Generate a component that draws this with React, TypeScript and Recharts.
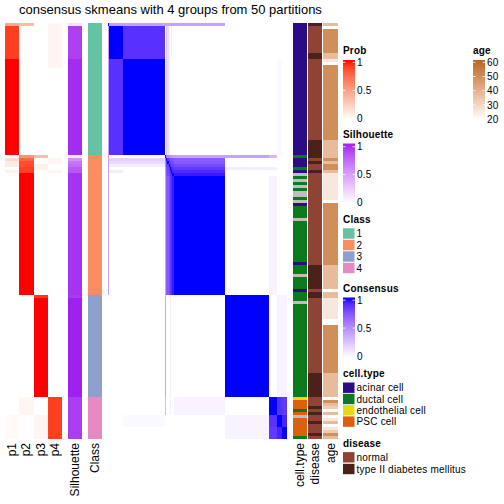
import React from 'react';
import { ComposedChart, XAxis, YAxis, ReferenceArea, Scatter } from 'recharts';

// ---------------- data ----------------
const title = 'consensus skmeans with 4 groups from 50 partitions';

const classLabels = ['1', '2', '3', '4'];
const classSizes = [44, 47, 34, 14];
const classColors = ['#66C2A5', '#FC8D62', '#8DA0CB', '#E78AC3'];

const probLabels = ['p1', 'p2', 'p3', 'p4'];
// [count, p1, p2, p3, p4, silhouette]
const memberRuns: number[][] = [
  [1, 0.45, 0.35, 0, 0.05, 0.15],
  [11, 0.9, 0, 0, 0.05, 0.9],
  [3, 1, 0, 0, 0.05, 0.97],
  [29, 1, 0, 0, 0, 0.97],
  [1, 0, 0.55, 0.35, 0, 0.12],
  [1, 0.2, 0.75, 0, 0.05, 0.55],
  [1, 0.1, 0.85, 0, 0.05, 0.68],
  [1, 0.1, 0.85, 0.07, 0, 0.72],
  [1, 0, 0.9, 0.07, 0, 0.8],
  [1, 0.08, 0.9, 0, 0.05, 0.82],
  [41, 0, 1, 0, 0, 0.95],
  [1, 0, 0, 0.92, 0, 0.93],
  [33, 0, 0, 1, 0, 1],
  [6, 0, 0.05, 0, 0.9, 0.92],
  [8, 0.03, 0, 0.05, 0.9, 0.92],
];

const cellTypeNames = ['acinar cell', 'ductal cell', 'endothelial cell', 'PSC cell'];
const cellTypeColors = ['#2C0B87', '#0B7A1E', '#E5DB12', '#DE5F0E'];
const naColor = '#BEBEBE';
// [type index (-1 = NA), count]
const cellTypeRuns: number[][] = [
  [0, 44], [1, 1], [0, 3], [1, 1], [0, 1], [-1, 1], [1, 1], [-1, 1], [1, 1], [-1, 1],
  [1, 1], [-1, 2], [1, 1], [-1, 1], [0, 1], [1, 4], [-1, 1], [1, 14], [0, 1], [1, 3],
  [-1, 1], [1, 4], [0, 1], [1, 3], [-1, 1], [1, 31],
  [2, 1], [3, 3], [1, 1], [3, 1], [-1, 1], [3, 6], [1, 1],
];

const diseaseNames = ['normal', 'type II diabetes mellitus'];
const diseaseColors = ['#8E4434', '#4A2219'];
// [disease index, count]
const diseaseRuns: number[][] = [
  [1, 1], [0, 9], [1, 2], [0, 27], [1, 6], [0, 1], [1, 1], [0, 2], [1, 1], [0, 31],
  [1, 8], [0, 1], [1, 2], [0, 25], [1, 8], [0, 3], [1, 1], [0, 1], [1, 1], [0, 2],
  [1, 1], [0, 3], [1, 1], [0, 1],
];

const ageTicks = [60, 50, 40, 30, 20];
const ageRange = [20, 60];
const ageTopColor = '#B5661E';
// [age, count]
const ageRuns: number[][] = [
  [37, 1], [20, 1], [49, 8], [37, 2], [26, 1], [20, 1], [49, 25], [37, 6],
  [49, 1], [37, 1], [49, 2], [37, 1], [26, 9], [20, 1], [49, 21], [37, 8], [20, 1],
  [37, 2], [26, 7], [20, 2], [49, 16], [37, 8],
  [20, 1], [49, 1], [37, 1], [33, 1], [20, 1], [37, 1], [20, 1], [26, 1], [37, 1],
  [20, 1], [26, 1], [33, 1], [49, 1], [37, 1],
];

// consensus sub-groups (contiguous sample blocks) and their pairwise consensus
const consensusGroupSizes = [1, 11, 32, 1, 1, 1, 1, 1, 1, 1, 40, 34, 6, 4, 4];
const consensusPairs: number[][] = [
  [0, 1, 0.4], [0, 2, 0.4], [0, 3, 0.4], [0, 4, 0.4], [0, 5, 0.4], [0, 6, 0.4],
  [0, 7, 0.4], [0, 8, 0.4], [0, 9, 0.4], [0, 10, 0.4],
  [1, 2, 0.88], [1, 4, 0.2], [1, 5, 0.15], [1, 6, 0.08], [1, 8, 0.08],
  [2, 4, 0.2], [2, 5, 0.15], [2, 6, 0.08], [2, 13, 0.03],
  [3, 4, 0.55], [3, 5, 0.5], [3, 6, 0.5], [3, 7, 0.45], [3, 8, 0.45], [3, 9, 0.42],
  [3, 10, 0.4], [3, 11, 0.4], [3, 12, 0.3],
  [4, 5, 0.85], [4, 6, 0.8], [4, 7, 0.75], [4, 8, 0.75], [4, 9, 0.72], [4, 10, 0.7],
  [5, 6, 0.85], [5, 7, 0.8], [5, 8, 0.8], [5, 9, 0.78], [5, 10, 0.72],
  [6, 7, 0.88], [6, 8, 0.85], [6, 9, 0.82], [6, 10, 0.78],
  [7, 8, 0.9], [7, 9, 0.88], [7, 10, 0.85], [7, 11, 0.08], [7, 12, 0.06],
  [8, 9, 0.92], [8, 10, 0.9],
  [9, 10, 0.95],
  [10, 12, 0.05],
  [11, 13, 0.05], [11, 14, 0.05],
  [12, 13, 0.88], [12, 14, 0.85],
  [13, 14, 0.92],
];

// ---------------- colour helpers (LAB interpolation) ----------------
function hexToRgb(h: string) {
  const n = parseInt(h.slice(1), 16);
  return [(n >> 16) & 255, (n >> 8) & 255, n & 255];
}
function toLab(rgb: number[]) {
  const lin = (c: number) => {
    c /= 255;
    return c <= 0.04045 ? c / 12.92 : Math.pow((c + 0.055) / 1.055, 2.4);
  };
  const R = lin(rgb[0]), G = lin(rgb[1]), B = lin(rgb[2]);
  const X = (0.4124564 * R + 0.3575761 * G + 0.1804375 * B) / 0.95047;
  const Y = 0.2126729 * R + 0.7151522 * G + 0.072175 * B;
  const Z = (0.0193339 * R + 0.119192 * G + 0.9503041 * B) / 1.08883;
  const f = (t: number) => (t > 216 / 24389 ? Math.cbrt(t) : ((24389 / 27) * t + 16) / 116);
  const fx = f(X), fy = f(Y), fz = f(Z);
  return [116 * fy - 16, 500 * (fx - fy), 200 * (fy - fz)];
}
function fromLab(lab: number[]) {
  const fy = (lab[0] + 16) / 116;
  const fx = fy + lab[1] / 500;
  const fz = fy - lab[2] / 200;
  const finv = (t: number) => (t * t * t > 216 / 24389 ? t * t * t : (116 * t - 16) / (24389 / 27));
  const X = finv(fx) * 0.95047, Y = finv(fy), Z = finv(fz) * 1.08883;
  const R = 3.2404542 * X - 1.5371385 * Y - 0.4985314 * Z;
  const G = -0.969266 * X + 1.8760108 * Y + 0.041556 * Z;
  const B = 0.0556434 * X - 0.2040259 * Y + 1.0572252 * Z;
  const g = (c: number) => {
    c = c <= 0.0031308 ? 12.92 * c : 1.055 * Math.pow(c, 1 / 2.4) - 0.055;
    return Math.round(Math.min(1, Math.max(0, c)) * 255);
  };
  return `rgb(${g(R)},${g(G)},${g(B)})`;
}
function ramp(c1: string, t: number) {
  const a = toLab([255, 255, 255]);
  const b = toLab(hexToRgb(c1));
  const tt = Math.min(1, Math.max(0, t));
  return fromLab(a.map((v, i) => v + (b[i] - v) * tt));
}
const probColor = (v: number) => ramp('#FF0000', v);
const silColor = (v: number) => ramp('#A020F0', v);
const consColor = (v: number) => ramp('#0000FF', v);
const ageColor = (a: number) => ramp(ageTopColor, (a - ageRange[0]) / (ageRange[1] - ageRange[0]));

// ---------------- derived cells ----------------
const N = classSizes.reduce((s, v) => s + v, 0);

type Cell = { col: number; y0: number; y1: number; fill: string };

function runsToCells(runs: number[][], countIdx: number, makeCells: (run: number[], y0: number, y1: number) => Cell[]) {
  let s = 0;
  const out: Cell[] = [];
  runs.forEach((r) => {
    const n = r[countIdx];
    out.push(...makeCells(r, s, s + n));
    s += n;
  });
  return out;
}

const probCells = runsToCells(memberRuns, 0, (r, y0, y1) =>
  [0, 1, 2, 3].filter((k) => r[k + 1] > 0).map((k) => ({ col: k, y0, y1, fill: probColor(r[k + 1]) }))
);
const silCells = runsToCells(memberRuns, 0, (r, y0, y1) => [{ col: 0, y0, y1, fill: silColor(r[5]) }]);
const classCells = runsToCells(classSizes.map((n, i) => [i, n]), 1, (r, y0, y1) => [
  { col: 0, y0, y1, fill: classColors[r[0]] },
]);
const cellTypeCells = runsToCells(cellTypeRuns, 1, (r, y0, y1) => [
  { col: 0, y0, y1, fill: r[0] < 0 ? naColor : cellTypeColors[r[0]] },
]);
const diseaseCells = runsToCells(diseaseRuns, 1, (r, y0, y1) => [{ col: 0, y0, y1, fill: diseaseColors[r[0]] }]);
const ageCells = runsToCells(ageRuns, 1, (r, y0, y1) => [{ col: 0, y0, y1, fill: ageColor(r[0]) }]);

const groupStarts: number[] = [];
consensusGroupSizes.reduce((s, v) => {
  groupStarts.push(s);
  return s + v;
}, 0);
type Block = { x0: number; x1: number; y0: number; y1: number; fill: string };
const consensusBlocks: Block[] = (() => {
  const G = consensusGroupSizes.length;
  const m: number[][] = Array.from({ length: G }, (_, i) => Array.from({ length: G }, (_, j) => (i === j ? 1 : 0)));
  consensusPairs.forEach(([i, j, v]) => {
    m[i][j] = v;
    m[j][i] = v;
  });
  const out: Block[] = [];
  for (let i = 0; i < G; i++)
    for (let j = 0; j < G; j++)
      if (m[i][j] > 0)
        out.push({
          y0: groupStarts[i],
          y1: groupStarts[i] + consensusGroupSizes[i],
          x0: groupStarts[j],
          x1: groupStarts[j] + consensusGroupSizes[j],
          fill: consColor(m[i][j]),
        });
  return out;
})();

// ---------------- components ----------------
const FONT = '"Liberation Sans", Arial, Helvetica, sans-serif';
const TOP = 23;
const PLOT_H = 416;
const LABEL_SPACE = 62;
const noShape = () => <g />;

function HeatStrip(props: { left: number; width: number; labels: string[]; cells: Cell[] }) {
  const { left, width, labels, cells } = props;
  const ticks = labels.map((_, i) => i + 0.5);
  const anchorData = cells.map((c) => ({ x: c.col + 0.5, y: (c.y0 + c.y1) / 2 }));
  const renderTick = (p: any) => {
    const x = p.x, y = p.y;
    return (
      <text
        x={x}
        y={y}
        transform={`rotate(-90 ${x} ${y})`}
        textAnchor="end"
        dominantBaseline="central"
        fontSize={12}
        fontFamily={FONT}
        fill="#000"
      >
        {labels[Math.floor(p.payload.value)]}
      </text>
    );
  };
  return (
    <div style={{ position: 'absolute', left, top: TOP }}>
      <ComposedChart width={width} height={PLOT_H + LABEL_SPACE} data={anchorData} margin={{ top: 0, right: 0, bottom: 0, left: 0 }}>
        <XAxis
          type="number"
          dataKey="x"
          domain={[0, labels.length]}
          ticks={ticks}
          interval={0}
          height={LABEL_SPACE}
          axisLine={false}
          tickLine={false}
          tickSize={0}
          tickMargin={4}
          tick={renderTick}
        />
        <YAxis type="number" dataKey="y" domain={[0, N]} reversed hide />
        {cells.map((c, i) => (
          <ReferenceArea
            key={i}
            x1={c.col}
            x2={c.col + 1}
            y1={c.y0}
            y2={c.y1}
            fill={c.fill}
            fillOpacity={1}
            stroke="none"
          />
        ))}
        <Scatter dataKey="y" isAnimationActive={false} shape={noShape} />
      </ComposedChart>
    </div>
  );
}

function ConsensusMatrix(props: { left: number; width: number }) {
  const anchorData = consensusBlocks.map((b) => ({ x: (b.x0 + b.x1) / 2, y: (b.y0 + b.y1) / 2 }));
  return (
    <div style={{ position: 'absolute', left: props.left, top: TOP }}>
      <ComposedChart width={props.width} height={PLOT_H} data={anchorData} margin={{ top: 0, right: 0, bottom: 0, left: 0 }}>
        <XAxis type="number" dataKey="x" domain={[0, N]} hide />
        <YAxis type="number" dataKey="y" domain={[0, N]} reversed hide />
        {consensusBlocks.map((b, i) => (
          <ReferenceArea
            key={i}
            x1={b.x0}
            x2={b.x1}
            y1={b.y0}
            y2={b.y1}
            fill={b.fill}
            fillOpacity={1}
            stroke="none"
          />
        ))}
        <Scatter dataKey="y" isAnimationActive={false} shape={noShape} />
      </ComposedChart>
    </div>
  );
}

function gradientStops(colorFn: (t: number) => string) {
  const stops = [];
  for (let k = 0; k <= 10; k++) {
    const t = 1 - k / 10;
    stops.push(<stop key={k} offset={`${k * 10}%`} stopColor={colorFn(t)} />);
  }
  return stops;
}

const LS = 0.2;

function ColorBar(props: {
  x: number; y: number; h: number; title: string; id: string;
  ticks: { label: string; y: number }[];
}) {
  const { x, y, h, title, id, ticks } = props;
  return (
    <g>
      <text x={x} y={y - 6} fontSize={10} fontWeight="bold" fontFamily={FONT} letterSpacing={LS}>{title}</text>
      <rect x={x} y={y} width={12} height={h} fill={`url(#${id})`} />
      {ticks.map((t, i) => (
        <g key={i}>
          <line x1={x} x2={x + 2.5} y1={t.y} y2={t.y} stroke="#fff" strokeWidth={0.8} />
          <line x1={x + 9.5} x2={x + 12} y1={t.y} y2={t.y} stroke="#fff" strokeWidth={0.8} />
          <text x={x + 14} y={t.y + 3.6} fontSize={10} fontFamily={FONT} letterSpacing={LS}>{t.label}</text>
        </g>
      ))}
    </g>
  );
}

function DiscreteLegend(props: { x: number; y: number; title: string; items: string[]; colors: string[]; step: number; firstY: number }) {
  const { x, y, title, items, colors, step, firstY } = props;
  return (
    <g>
      <text x={x} y={y} fontSize={10} fontWeight="bold" fontFamily={FONT} letterSpacing={LS}>{title}</text>
      {items.map((it, i) => {
        const cy = firstY + i * step;
        return (
          <g key={i}>
            <rect x={x} y={cy - 5.2} width={11.5} height={10.4} fill={colors[i]} />
            <text x={x + 13.5} y={cy + 3.6} fontSize={10} fontFamily={FONT} letterSpacing={LS}>{it}</text>
          </g>
        );
      })}
    </g>
  );
}

export default function App() {
  const unitTicks = (y0: number, y1: number) => [
    { label: '1', y: y0 },
    { label: '0.5', y: (y0 + y1) / 2 },
    { label: '0', y: y1 },
  ];
  const ageTickObjs = ageTicks.map((a, i) => ({ label: String(a), y: 62.3 + i * 14.2 }));
  return (
    <div style={{ position: 'absolute', left: 0, top: 0, width: 504, height: 504, background: '#fff', shapeRendering: 'crispEdges' as any }}>
      <HeatStrip left={5} width={57} labels={probLabels} cells={probCells} />
      <HeatStrip left={68} width={14} labels={['Silhouette']} cells={silCells} />
      <HeatStrip left={88} width={14} labels={['Class']} cells={classCells} />
      <ConsensusMatrix left={108} width={179} />
      <HeatStrip left={293} width={14} labels={['cell.type']} cells={cellTypeCells} />
      <HeatStrip left={308} width={14} labels={['disease']} cells={diseaseCells} />
      <HeatStrip left={323} width={15} labels={['age']} cells={ageCells} />
      <svg width={504} height={504} style={{ position: 'absolute', left: 0, top: 0, pointerEvents: 'none', shapeRendering: 'auto' }}>
        <defs>
          <linearGradient id="gProb" x1="0" y1="0" x2="0" y2="1">{gradientStops(probColor)}</linearGradient>
          <linearGradient id="gSil" x1="0" y1="0" x2="0" y2="1">{gradientStops(silColor)}</linearGradient>
          <linearGradient id="gCons" x1="0" y1="0" x2="0" y2="1">{gradientStops(consColor)}</linearGradient>
          <linearGradient id="gAge" x1="0" y1="0" x2="0" y2="1">
            {gradientStops((t) => ageColor(ageRange[0] + t * (ageRange[1] - ageRange[0])))}
          </linearGradient>
        </defs>
        <text x={170.5} y={14} textAnchor="middle" fontSize={13} fontFamily={FONT}>{title}</text>
        <ColorBar x={343} y={60} h={60} title="Prob" id="gProb" ticks={unitTicks(62.3, 118.5)} />
        <ColorBar x={343} y={143.5} h={60} title="Silhouette" id="gSil" ticks={unitTicks(146.7, 202.5)} />
        <DiscreteLegend x={343} y={222.6} title="Class" items={classLabels} colors={classColors} step={11.5} firstY={233.5} />
        <ColorBar x={343} y={297.5} h={60} title="Consensus" id="gCons" ticks={unitTicks(300.2, 356)} />
        <DiscreteLegend x={343} y={376.9} title="cell.type" items={cellTypeNames} colors={cellTypeColors} step={11.3} firstY={387.7} />
        <DiscreteLegend x={343} y={447} title="disease" items={diseaseNames} colors={diseaseColors} step={11.7} firstY={457.3} />
        <ColorBar x={473} y={60} h={60} title="age" id="gAge" ticks={ageTickObjs} />
      </svg>
    </div>
  );
}
